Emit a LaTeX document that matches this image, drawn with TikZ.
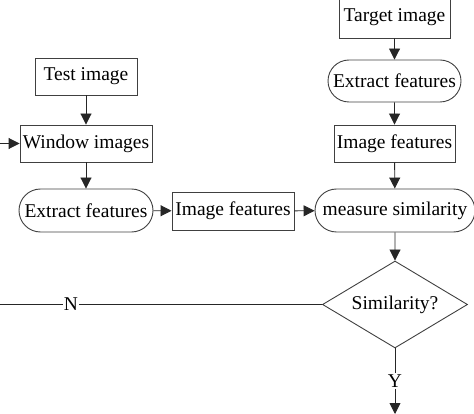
\documentclass[tikz,border=0pt]{standalone}
\usepackage{fontspec}
\setmainfont{Liberation Serif}
\usetikzlibrary{shapes.geometric,shapes.misc,arrows.meta}
\begin{document}
\begin{tikzpicture}[x=1pt,y=-1pt,
  font=\fontsize{19.5}{21}\selectfont,
  box/.style={draw=black!75,line width=0.9pt,inner sep=0pt,minimum height=37pt},
  pill/.style={draw=black!75,line width=0.9pt,inner sep=0pt,rounded rectangle,minimum height=43pt},
  dec/.style={draw=black!75,line width=0.9pt,diamond,aspect=1.667,inner sep=0pt,minimum width=145pt,minimum height=87pt},
  conn/.style={draw=black!85,line width=0.9pt,-{Triangle[width=11pt,length=11pt]}},
  plain/.style={draw=black!85,line width=0.9pt}]
\useasboundingbox (0,0) rectangle (474,414);
\node[box,minimum width=102pt] (test) at (86,76.5) {Test image};
\node[box,minimum width=132pt] (win) at (86,143.5) {Window images};
\node[pill,minimum width=134pt] (extL) at (86,210.5) {Extract features};
\node[box,minimum width=122pt,minimum height=38pt] (imgM) at (233,211) {Image features};
\node[pill,minimum width=160pt] (meas) at (395,210.5) {measure similarity};
\node[box,minimum width=111pt,minimum height=41pt] (target) at (394.5,17.5) {Target image};
\node[pill,minimum width=133pt,minimum height=42pt] (extR) at (394.5,81) {Extract features};
\node[box,minimum width=121pt] (imgR) at (394.5,143.5) {Image features};
\node[dec] (sim) at (395,304.5) {Similarity?};
\node[inner sep=1pt] (Y) at (395,381) {Y};
\coordinate (inL) at (0,143.5);
\coordinate (outN) at (0,304.5);
\coordinate (outY) at (395,414);
\draw[conn] (inL) -- (win.west);
\draw[conn] (test) -- (win);
\draw[conn] (win) -- (extL);
\draw[conn] (extL) -- (imgM);
\draw[conn] (imgM) -- (meas);
\draw[conn] (target) -- (extR);
\draw[conn] (extR) -- (imgR);
\draw[conn] (imgR) -- (meas);
\draw[conn] (meas) -- (sim);
\draw[plain] (sim.west) -- node[pos=0.78,fill=white,inner sep=1pt] {N} (outN);
\draw[plain] (sim.south) -- (Y.north);
\draw[conn] (Y.south) -- (outY);
\end{tikzpicture}
\end{document}
